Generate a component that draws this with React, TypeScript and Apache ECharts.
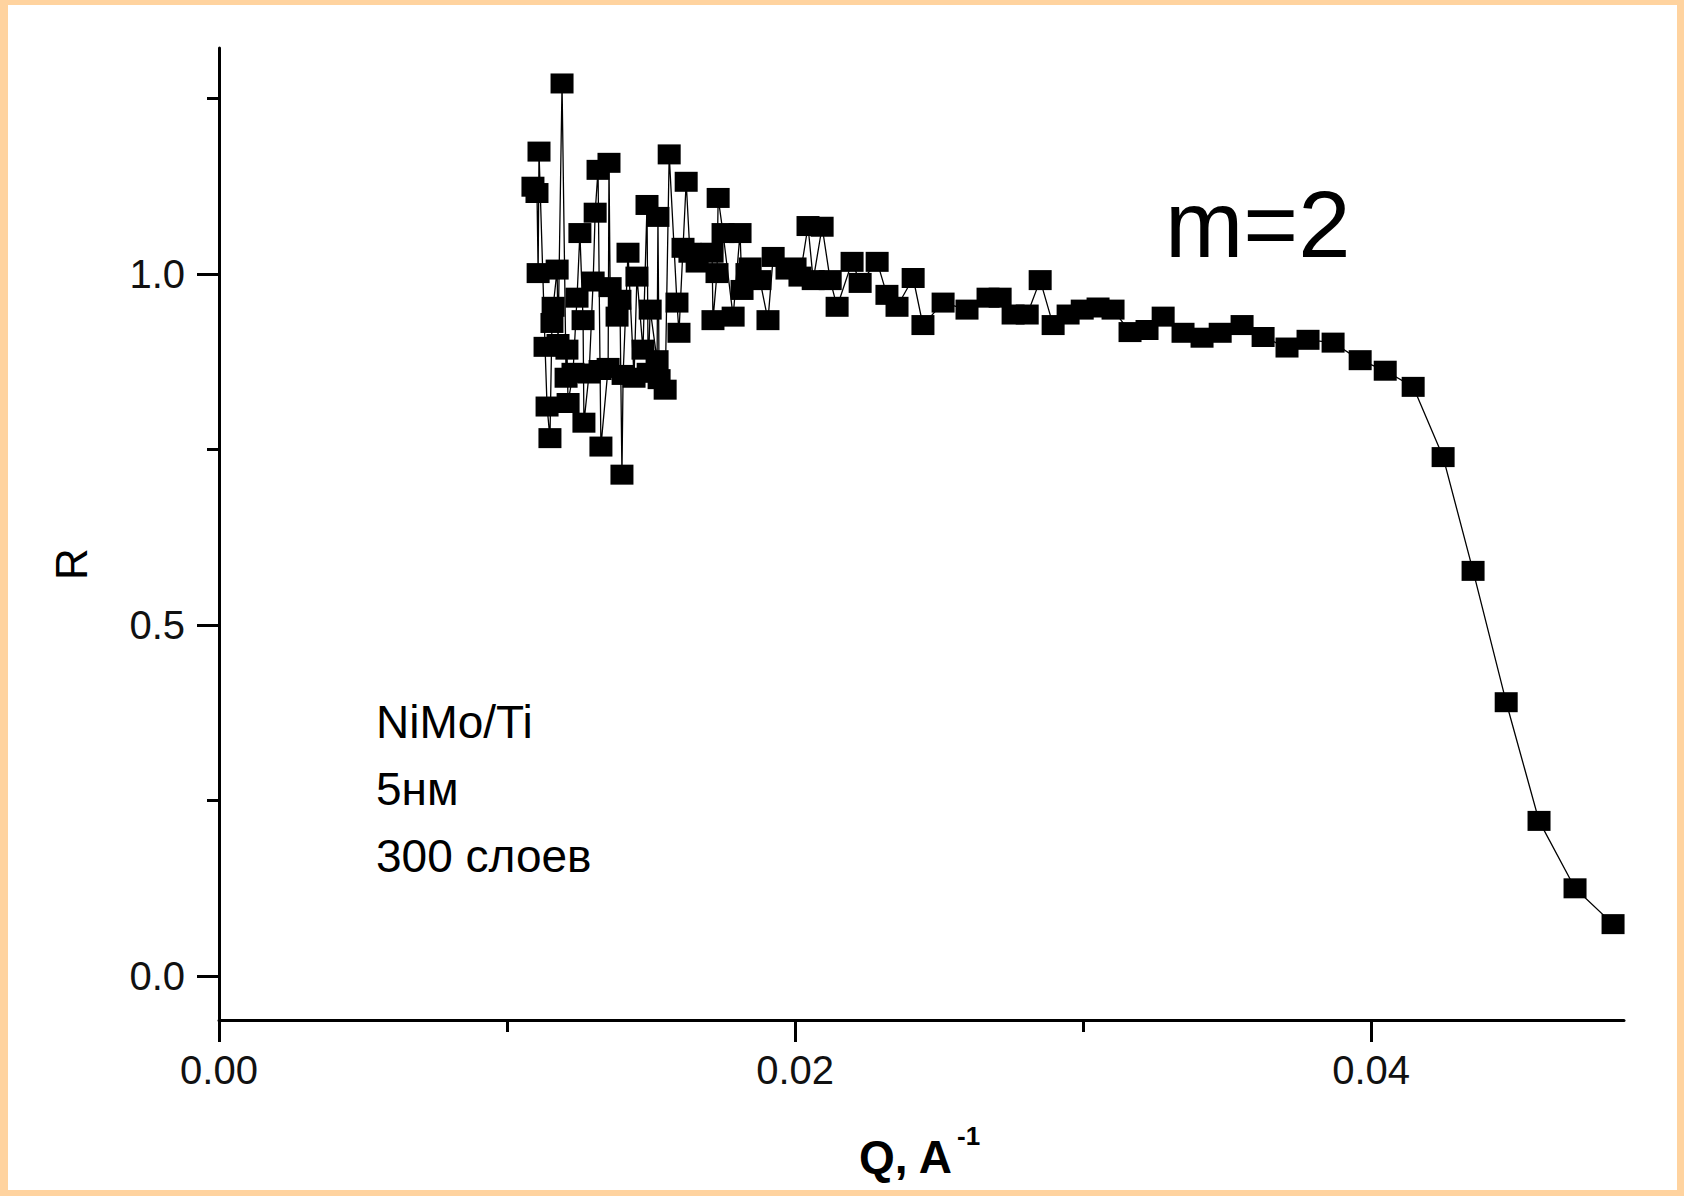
import React, { useEffect, useRef } from "react";
import * as echarts from "echarts";

const Q_VALUES = [
  0.0109, 0.01104, 0.01108, 0.01111, 0.01132, 0.01139, 0.01149, 0.01156, 0.0116, 0.01174, 0.01177,
  0.01191, 0.01205, 0.01208, 0.01212, 0.01229, 0.01243, 0.01253, 0.01264, 0.01267, 0.01285, 0.01299, 0.01306,
  0.01316, 0.01323, 0.01326, 0.01351, 0.01354, 0.01358, 0.01382, 0.01392, 0.01399, 0.01403, 0.0142,
  0.01441, 0.01451, 0.01472, 0.01486, 0.0149, 0.01497, 0.01521, 0.01524, 0.01528, 0.01549, 0.01563, 0.0159,
  0.01597, 0.01611, 0.01622, 0.01635, 0.0166, 0.01712, 0.01715, 0.01729, 0.01733, 0.0175,
  0.01785, 0.01809, 0.01816, 0.01833, 0.01844, 0.01878, 0.01906, 0.01924, 0.01972, 0.02,
  0.02017, 0.02045, 0.02063, 0.02094, 0.02122, 0.02146, 0.02198, 0.02226, 0.02285, 0.02319,
  0.02354, 0.0241, 0.02444, 0.02514, 0.02597, 0.0267, 0.02712, 0.02757, 0.02806, 0.02851,
  0.02896, 0.02948, 0.02997, 0.03052, 0.03104, 0.03163, 0.03222, 0.03278, 0.03347, 0.03413,
  0.03476, 0.03552, 0.03625, 0.03708, 0.03781, 0.03868, 0.03962, 0.04049, 0.04146, 0.0425,
  0.04354, 0.04469, 0.04583, 0.04708, 0.0484,
];

const R_VALUES = [
  1.124, 1.115, 1.001, 1.174, 0.896, 0.811, 0.766, 0.93, 0.953, 1.006, 0.9,
  1.271, 0.852, 0.892, 0.816, 0.859, 0.966, 1.058, 0.934, 0.788, 0.858, 0.989, 1.087,
  1.148, 0.863, 0.754, 0.866, 1.158, 0.981, 0.939, 0.963, 0.714, 0.856, 1.03,
  0.852, 0.996, 0.892, 1.098, 0.859, 0.949, 0.877, 1.081, 0.85, 0.835, 1.17, 0.959,
  0.916, 1.037, 1.131, 1.03, 1.016, 1.03, 0.934, 1.001, 1.108, 1.058,
  0.939, 1.058, 0.977, 1.001, 1.009, 0.991, 0.934, 1.024, 1.006, 1.009,
  0.996, 1.068, 0.991, 1.067, 0.991, 0.953, 1.017, 0.987, 1.017, 0.97,
  0.953, 0.994, 0.927, 0.959, 0.949, 0.966, 0.966, 0.942, 0.942, 0.991,
  0.927, 0.942, 0.949, 0.952, 0.949, 0.917, 0.92, 0.939, 0.916, 0.909,
  0.916, 0.927, 0.91, 0.895, 0.906, 0.902, 0.877, 0.862, 0.839, 0.739,
  0.577, 0.39, 0.221, 0.125, 0.074,
];

const X_MAJOR_TICKS = [0, 0.02, 0.04];
const X_MINOR_TICKS = [0.01, 0.03];
const X_TICK_LABELS = ["0.00", "0.02", "0.04"];
const Y_MAJOR_TICKS = [0, 0.5, 1.0];
const Y_MINOR_TICKS = [0.25, 0.75, 1.25];
const Y_TICK_LABELS = ["0.0", "0.5", "1.0"];
const SAMPLE_LINES = ["NiMo/Ti", "5нм", "300 слоев"];
const ANNOTATION = "m=2";
const X_NAME = "Q, A";
const X_NAME_SUP = "-1";
const Y_NAME = "R";

const X_MIN = 0;
const X_MAX = 0.04878;
const Y_MIN = -0.0625;
const Y_MAX = 1.3215;

const FONT = "'Liberation Sans', Arial, sans-serif";

function labelFor(ticks: number[], labels: string[]) {
  return (v: number) => {
    const i = ticks.findIndex((t) => Math.abs(t - v) < 1e-9);
    return i >= 0 ? labels[i] : "";
  };
}

export default function App() {
  const ref = useRef<HTMLDivElement>(null);

  useEffect(() => {
    if (!ref.current) return;
    const chart = echarts.init(ref.current, undefined, { renderer: "svg" });
    const axisLineStyle = { color: "#000", width: 3 };
    const data = Q_VALUES.map((q, i) => [q, R_VALUES[i]]);

    chart.setOption({
      animation: false,
      backgroundColor: "#ffffff",
      grid: { left: 211, top: 43, right: 53, bottom: 170, containLabel: false },
      xAxis: [
        {
          type: "value",
          min: X_MIN,
          max: X_MAX,
          position: "bottom",
          axisLine: { show: true, onZero: false, lineStyle: axisLineStyle },
          axisTick: { show: true, inside: false, length: 22, customValues: X_MAJOR_TICKS, lineStyle: axisLineStyle },
          axisLabel: {
            show: true,
            customValues: X_MAJOR_TICKS,
            formatter: labelFor(X_MAJOR_TICKS, X_TICK_LABELS),
            margin: 30,
            fontSize: 40,
            color: "#111",
            fontFamily: FONT,
          },
          splitLine: { show: false },
        },
        {
          type: "value",
          min: X_MIN,
          max: X_MAX,
          position: "bottom",
          offset: 0,
          axisLine: { show: false, onZero: false },
          axisTick: { show: true, inside: false, length: 12, customValues: X_MINOR_TICKS, lineStyle: axisLineStyle },
          axisLabel: { show: false },
          splitLine: { show: false },
        },
      ],
      yAxis: [
        {
          type: "value",
          min: Y_MIN,
          max: Y_MAX,
          position: "left",
          axisLine: { show: true, onZero: false, lineStyle: axisLineStyle },
          axisTick: { show: true, inside: false, length: 22, customValues: Y_MAJOR_TICKS, lineStyle: axisLineStyle },
          axisLabel: {
            show: true,
            customValues: Y_MAJOR_TICKS,
            formatter: labelFor(Y_MAJOR_TICKS, Y_TICK_LABELS),
            margin: 34,
            fontSize: 40,
            color: "#111",
            fontFamily: FONT,
          },
          splitLine: { show: false },
        },
        {
          type: "value",
          min: Y_MIN,
          max: Y_MAX,
          position: "left",
          offset: 0,
          axisLine: { show: false, onZero: false },
          axisTick: { show: true, inside: false, length: 12, customValues: Y_MINOR_TICKS, lineStyle: axisLineStyle },
          axisLabel: { show: false },
          splitLine: { show: false },
        },
      ],
      series: [
        {
          type: "line",
          xAxisIndex: 0,
          yAxisIndex: 0,
          data,
          symbol: "rect",
          symbolSize: [23, 20],
          showAllSymbol: true,
          clip: false,
          itemStyle: { color: "#000" },
          lineStyle: { color: "#000", width: 1.3 },
          emphasis: { disabled: true },
        },
      ],
      graphic: [
        {
          type: "text",
          x: 1157,
          y: 219,
          style: { text: ANNOTATION, fontSize: 94, fontFamily: FONT, fill: "#000", verticalAlign: "middle", align: "left" },
        },
        ...SAMPLE_LINES.map((t, i) => ({
          type: "text",
          x: 368,
          y: 717 + i * 67,
          style: { text: t, fontSize: 46, fontFamily: FONT, fill: "#000", verticalAlign: "middle", align: "left" },
        })),
        {
          type: "text",
          x: 63,
          y: 559,
          rotation: Math.PI / 2,
          style: { text: Y_NAME, fontSize: 44, fontFamily: FONT, fill: "#000", verticalAlign: "middle", align: "center" },
        },
        {
          type: "text",
          x: 851,
          y: 1152,
          style: { text: X_NAME, fontSize: 46, fontWeight: "bold", fontFamily: FONT, fill: "#000", verticalAlign: "middle", align: "left" },
        },
        {
          type: "text",
          x: 949,
          y: 1118,
          style: { text: X_NAME_SUP, fontSize: 26, fontWeight: "bold", fontFamily: FONT, fill: "#000", verticalAlign: "top", align: "left" },
        },
      ],
    });
    return () => chart.dispose();
  }, []);

  return (
    <div style={{ position: "fixed", left: 0, top: 0, width: 1684, height: 1196, background: "#FFD39F" }}>
      <div ref={ref} style={{ position: "absolute", left: 8, top: 5, width: 1669, height: 1185 }} />
    </div>
  );
}
